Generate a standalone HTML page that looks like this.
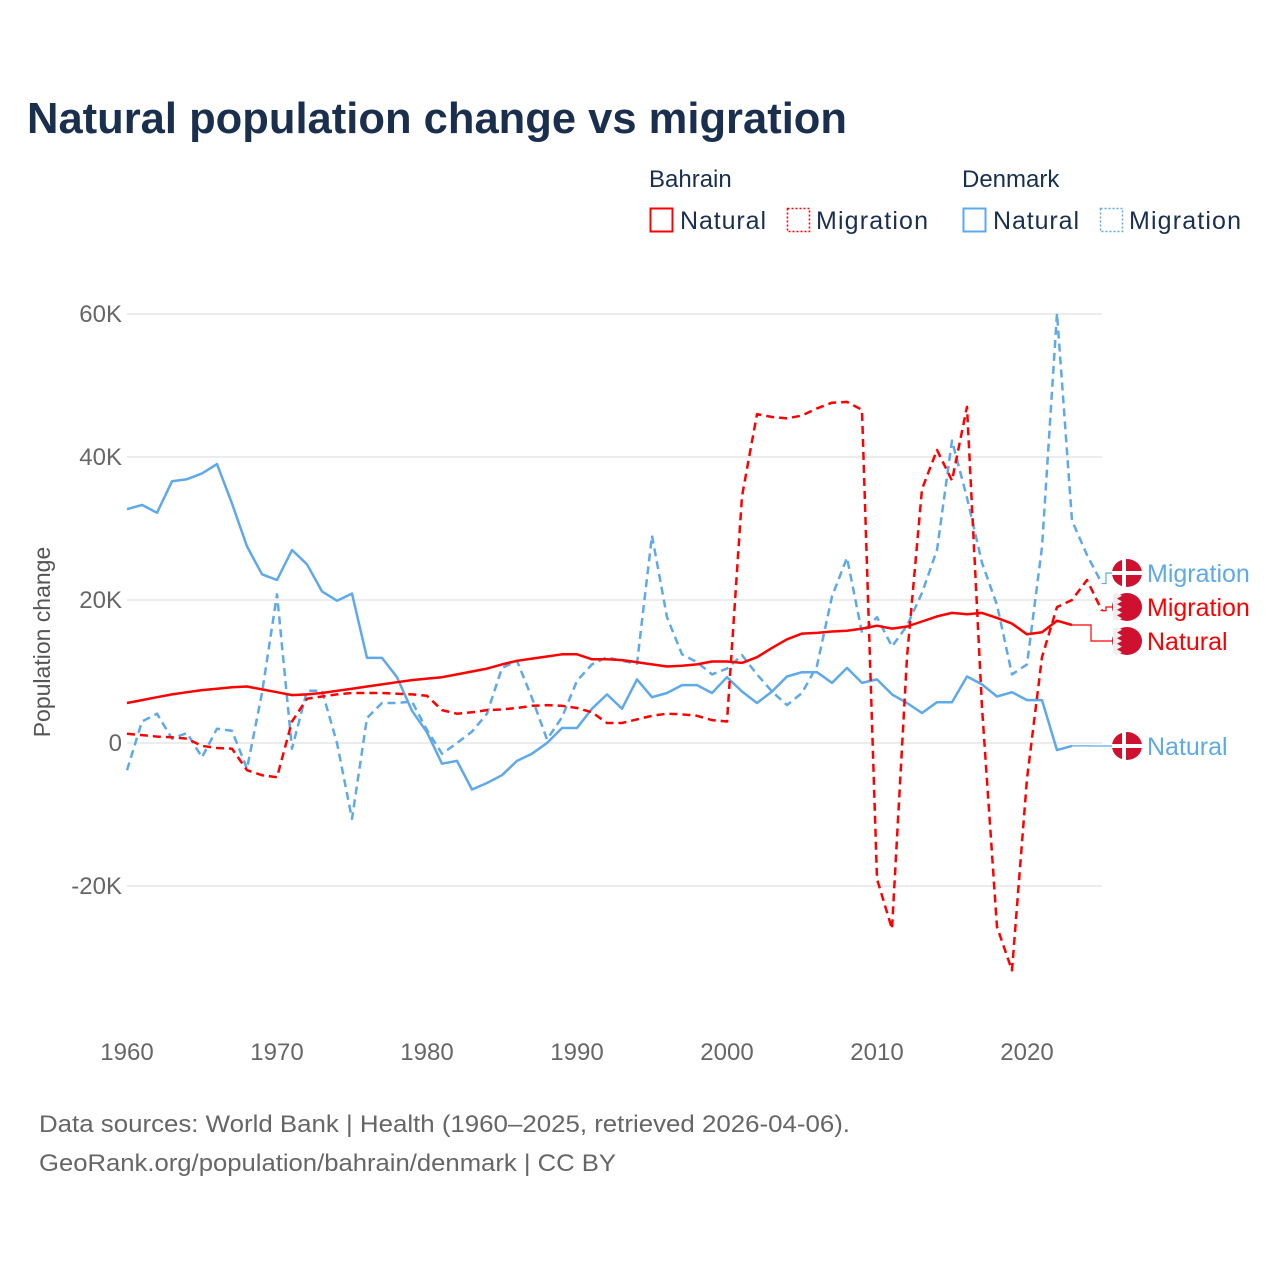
<!DOCTYPE html>
<html><head><meta charset="utf-8">
<style>
html,body{margin:0;padding:0;background:#fff;}
body{width:1280px;height:1280px;overflow:hidden;font-family:"Liberation Sans",sans-serif;}
svg text{font-family:"Liberation Sans",sans-serif;}
</style></head>
<body>
<svg id="chart" width="1280" height="1280" viewBox="0 0 1280 1280">
<text x="27" y="133" font-size="44" font-weight="bold" fill="#1a2f4e" textLength="820" lengthAdjust="spacingAndGlyphs">Natural population change vs migration</text>
<g>
<text x="649" y="187" font-size="24" fill="#1a2f4e">Bahrain</text>
<text x="962" y="187" font-size="24" fill="#1a2f4e">Denmark</text>
<rect x="650.5" y="208.5" width="22" height="23" fill="none" stroke="#ff0000" stroke-width="2"/>
<text x="680" y="229" font-size="25" fill="#1a2f4e" textLength="86">Natural</text>
<rect x="787.5" y="208.5" width="22" height="23" fill="none" stroke="#ff0000" stroke-width="1.5" stroke-dasharray="2,2"/>
<text x="816" y="229" font-size="25" fill="#1a2f4e" textLength="112">Migration</text>
<rect x="963.5" y="208.5" width="22" height="23" fill="none" stroke="#5ea9ea" stroke-width="2"/>
<text x="993" y="229" font-size="25" fill="#1a2f4e" textLength="86">Natural</text>
<rect x="1100.5" y="208.5" width="22" height="23" fill="none" stroke="#5ea9ea" stroke-width="1.5" stroke-dasharray="2,2"/>
<text x="1129" y="229" font-size="25" fill="#1a2f4e" textLength="112">Migration</text>
</g>
<g id="grid"></g>
<g id="series"></g>
<g id="labels"></g>
<text transform="translate(50,642) rotate(-90)" text-anchor="middle" font-size="23" fill="#555">Population change</text>
<text x="39" y="1132" font-size="24" fill="#666" textLength="811" lengthAdjust="spacingAndGlyphs">Data sources: World Bank | Health (1960–2025, retrieved 2026-04-06).</text>
<text x="39" y="1171" font-size="24" fill="#666" textLength="577" lengthAdjust="spacingAndGlyphs">GeoRank.org/population/bahrain/denmark | CC BY</text>
</svg>
<script>
const years=[];for(let y=1960;y<=2025;y++)years.push(y);
const yTicks=[-20000,0,20000,40000,60000];
const yTickLabels=["-20K","0","20K","40K","60K"];
const xTicks=[1960,1970,1980,1990,2000,2010,2020];
const bahrainNatural=[5.6,6.0,6.4,6.8,7.1,7.4,7.6,7.8,7.9,7.5,7.1,6.7,6.8,7.0,7.3,7.6,7.9,8.2,8.5,8.8,9.0,9.2,9.6,10.0,10.4,11.0,11.5,11.8,12.1,12.4,12.4,11.7,11.7,11.6,11.3,11.0,10.7,10.8,11.0,11.4,11.4,11.2,12.0,13.3,14.5,15.3,15.4,15.6,15.7,16.0,16.4,16.0,16.3,17.0,17.7,18.2,18.0,18.2,17.5,16.7,15.2,15.5,17.1,16.5];
const bahrainMigration=[1.3,1.1,0.9,0.8,0.6,-0.4,-0.7,-0.8,-3.8,-4.5,-4.8,3.0,6.2,6.5,6.8,7.0,7.0,7.0,6.9,6.8,6.6,4.6,4.1,4.3,4.6,4.7,4.9,5.2,5.3,5.2,4.9,4.3,2.8,2.8,3.3,3.8,4.1,4.0,3.8,3.2,3.0,34.5,46.0,45.6,45.4,45.8,46.8,47.6,47.7,46.6,-19.0,-26.0,12.0,35.5,41.0,36.7,47.0,5.0,-25.7,-31.8,-5.0,12.0,19.0,20.0,22.8,18.5];
const denmarkNatural=[32.7,33.3,32.2,36.6,36.9,37.7,39.0,33.5,27.5,23.6,22.8,27.0,25.0,21.2,19.9,20.9,11.9,11.9,9.2,4.5,1.5,-2.9,-2.5,-6.5,-5.6,-4.5,-2.5,-1.5,0.0,2.1,2.1,4.8,6.8,4.8,8.9,6.4,7.0,8.1,8.1,7.0,9.2,7.2,5.6,7.2,9.3,9.9,9.9,8.4,10.5,8.4,8.9,6.8,5.6,4.2,5.7,5.7,9.3,8.2,6.5,7.1,6.0,6.0,-1.0,-0.4];
const denmarkMigration=[-3.8,3.0,4.1,0.6,1.4,-2.0,2.0,1.7,-3.6,7.0,20.8,-0.8,7.3,7.3,0,-10.6,3.5,5.6,5.6,5.8,1.8,-1.5,0,1.6,4.1,10.5,11.5,6.3,0.5,3.6,8.7,11.0,12.0,11.5,11.1,29.0,17.6,12.4,11.3,9.6,10.4,12.3,9.6,7.2,5.3,7.0,10.8,20.5,25.9,15.4,17.6,13.5,16.4,21.0,27.0,42.3,34.3,25.2,19.3,9.6,11.0,27.4,60.1,31.1,26.3,22.3];

const NS="http://www.w3.org/2000/svg";
const X0=127,X1=1102;
const xs=y=>X0+(y-1960)*(X1-X0)/65;
const ys=v=>743-v*143/20000;
function mk(tag,attrs,parent){const e=document.createElementNS(NS,tag);for(const k in attrs)e.setAttribute(k,attrs[k]);parent.appendChild(e);return e;}
const grid=document.getElementById('grid');
yTicks.forEach((t,i)=>{
  const l=mk('line',{x1:X0,x2:X1,y1:ys(t),y2:ys(t),stroke:'#e6e6e6','stroke-width':1.5},grid);
  
  
  const tx=mk('text',{x:122,y:ys(t)+8,'text-anchor':'end','font-size':24,fill:'#666'},grid);
  tx.textContent=yTickLabels[i];
  
  
});
xTicks.forEach(t=>{
  const tx=mk('text',{x:xs(t),y:1060,'text-anchor':'middle','font-size':24,fill:'#666'},grid);
  tx.textContent=t;
  
  
});
const ser=document.getElementById('series');
function line(vals,color,dash,name){
  const d=vals.map((v,i)=>(i?'L':'M')+xs(years[i]).toFixed(1)+','+ys(v*1000).toFixed(1)).join('');
  const p=mk('path',{d:d,fill:'none',stroke:color,'stroke-width':2.5,'stroke-linejoin':'round'},ser);
  if(dash)p.setAttribute('stroke-dasharray','8,5');
  
  
}
line(denmarkNatural,'#5ea9ea',false,'line-denmark-natural');
line(denmarkMigration,'#5ea9ea',true,'line-denmark-migration');
line(bahrainNatural,'#ff0000',false,'line-bahrain-natural');
line(bahrainMigration,'#ff0000',true,'line-bahrain-migration');

const lab=document.getElementById('labels');
function endLabel(vals,color,ly,text,flag,name){
  const lastI=vals.length-1;
  const ex=xs(years[lastI]), ey=ys(vals[lastI]*1000);
  const c=mk('path',{d:`M${ex},${ey}L${ex+(1110-ex)/2},${ey}L${ex+(1110-ex)/2},${ly}L1112,${ly}`,fill:'none',stroke:color,'stroke-width':1.2},lab);
  
  
  const g=mk('g',{},lab);
  
  
  mk('ellipse',{cx:1127,cy:ly,rx:15,ry:14,fill:'#d0102f'},g);
  if(flag==='dk'){
    mk('rect',{x:1122,y:ly-14,width:4,height:28,fill:'#fff'},g);
    mk('rect',{x:1112,y:ly-2,width:30,height:4,fill:'#fff'},g);
  }else{
    let pts=`1113,${ly-12} `;
    for(let k=0;k<5;k++){const yy=ly-14+k*5.6;pts+=`1117,${yy} 1122,${yy+2.8} 1117,${yy+5.6} `;}
    pts+=`1113,${ly+12}`;
    mk('polygon',{points:pts,fill:'#eee'},g);
  }
  const t=mk('text',{x:1147,y:ly+9,'font-size':25,fill:color},lab);
  t.textContent=text;
  
  
}
endLabel(denmarkMigration,'#5ea9ea',573,'Migration','dk','end-label-denmark-migration');
endLabel(bahrainMigration,'#ff0000',607,'Migration','bh','end-label-bahrain-migration');
endLabel(bahrainNatural,'#ff0000',641,'Natural','bh','end-label-bahrain-natural');
endLabel(denmarkNatural,'#5ea9ea',746,'Natural','dk','end-label-denmark-natural');
</script>
</body></html>
